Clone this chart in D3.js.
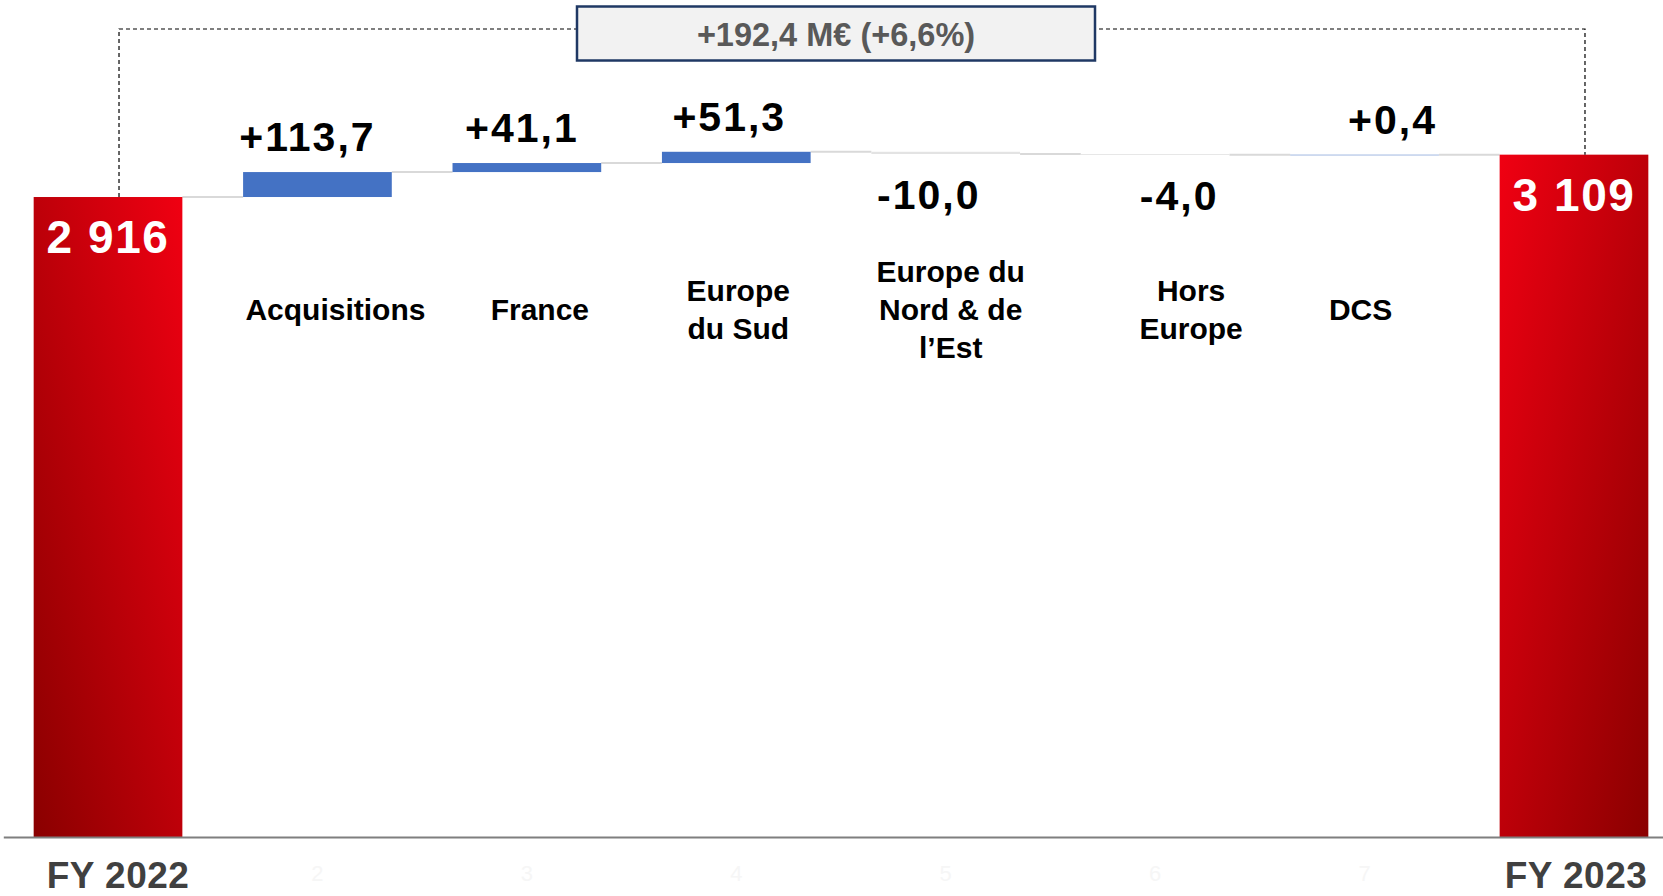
<!DOCTYPE html>
<html>
<head>
<meta charset="utf-8">
<script src="https://cdn.jsdelivr.net/npm/d3@7"></script>
<style>
  html, body { margin: 0; padding: 0; background: #fff; }
  svg { display: block; }
</style>
</head>
<body>
<svg id="chart" width="1663" height="896"></svg>
<script>
// ---- data ----
const categories = ["FY 2022", "Acquisitions", "France", "Europe du Sud", "Europe du Nord & de l’Est", "Hors Europe", "DCS", "FY 2023"];
const categoryLines = [[], ["Acquisitions"], ["France"], ["Europe", "du Sud"], ["Europe du", "Nord & de", "l’Est"], ["Hors", "Europe"], ["DCS"], []];
const startValue = 2916;
const deltas = [113.7, 41.1, 51.3, -10.0, -4.0, 0.4];
const endValue = 3109;
const axisTickLabels = ["1", "2", "3", "4", "5", "6", "7", "8"];
const summaryLabel = "+192,4 M€ (+6,6%)";

// ---- layout tweaks (pixel nudges of hand-placed labels, by category index) ----
const valueLabelDx = { 1: -10, 2: -5, 3: -7, 4: -17, 5: 24, 6: 28 };
const catLabelDx = { 1: 18, 2: 13, 3: 2, 4: 5, 5: 36, 6: -4 };

// ---- build waterfall rows ----
const rows = [];
rows.push({ i: 0, kind: "total", y0: 0, y1: startValue, v: startValue });
let run = startValue;
deltas.forEach((d, k) => {
  rows.push({ i: k + 1, kind: d >= 0 ? "up" : "down", y0: run, y1: run + d, v: d });
  run += d;
});
rows.push({ i: 7, kind: "total", y0: 0, y1: endValue, v: endValue });

const svg = d3.select("#chart");

const x = d3.scaleBand().domain(d3.range(categories.length)).range([3.3, 1678.7])
  .paddingInner(0.29).paddingOuter(0.145);
const y = d3.scaleLinear().domain([0, 3800]).range([837, 3]);

const locale = d3.formatLocale({ decimal: ",", thousands: " ", grouping: [3], currency: ["", "€"], minus: "-" });
const fTotal = locale.format(",.0f");
const fDelta = locale.format("+.1f");

// gradients
const defs = svg.append("defs");
const g1 = defs.append("linearGradient").attr("id", "gStart")
  .attr("x1", 0).attr("y1", 1).attr("x2", 1).attr("y2", 0);
g1.append("stop").attr("offset", "0%").attr("stop-color", "#8a0000");
g1.append("stop").attr("offset", "100%").attr("stop-color", "#f00012");
const g2 = defs.append("linearGradient").attr("id", "gEnd")
  .attr("x1", 0).attr("y1", 0).attr("x2", 1).attr("y2", 1);
g2.append("stop").attr("offset", "0%").attr("stop-color", "#f00012");
g2.append("stop").attr("offset", "100%").attr("stop-color", "#8a0000");

// connectors
const conn = svg.append("g");
for (let k = 0; k < rows.length - 1; k++) {
  const level = rows[k].y1;
  conn.append("line")
    .attr("x1", x(k) + x.bandwidth()).attr("x2", x(k + 1))
    .attr("y1", y(level)).attr("y2", y(level))
    .attr("stroke", "#d9d9d9").attr("stroke-width", 2);
}

// bars
svg.append("g").selectAll("rect").data(rows).join("rect")
  .attr("x", d => x(d.i))
  .attr("width", x.bandwidth())
  .attr("y", d => y(Math.max(d.y0, d.y1)))
  .attr("height", d => Math.max(0.5, Math.abs(y(d.y0) - y(d.y1))))
  .attr("fill", d => d.kind === "total" ? (d.i === 0 ? "url(#gStart)" : "url(#gEnd)")
    : d.kind === "up" ? "#4472c4" : "#e3e3e3");

// axis
const axis = d3.axisBottom(x).tickSize(0).tickPadding(0)
  .tickFormat(i => (i === 0 || i === categories.length - 1) ? "" : axisTickLabels[i]);
const ag = svg.append("g").attr("transform", "translate(0,837)").call(axis);
ag.select(".domain").attr("stroke", "#7f7f7f").attr("stroke-width", 2.2);
ag.selectAll(".tick text")
  .attr("y", 44).attr("dy", 0)
  .attr("font-family", "Liberation Sans, Arial, sans-serif")
  .attr("font-size", 22).attr("fill", "#f6f6f6");

// FY labels
svg.append("g").selectAll("text").data([0, categories.length - 1]).join("text")
  .attr("x", i => x(i) + x.bandwidth() / 2 + (i === 0 ? 10 : 2))
  .attr("y", 888)
  .attr("text-anchor", "middle")
  .attr("font-family", "Liberation Sans, Arial, sans-serif")
  .attr("font-weight", "bold").attr("font-size", 37).attr("letter-spacing", 0.5)
  .attr("fill", "#404040")
  .text(i => categories[i]);

// value labels
const vl = svg.append("g").attr("font-family", "Liberation Sans, Arial, sans-serif").attr("font-weight", "bold");
rows.forEach(r => {
  const cx = x(r.i) + x.bandwidth() / 2 + (valueLabelDx[r.i] || 0);
  if (r.kind === "total") {
    vl.append("text").attr("x", cx).attr("y", y(r.y1) + 56)
      .attr("text-anchor", "middle").attr("font-size", 46).attr("letter-spacing", 1.6)
      .attr("fill", "#fff").text(fTotal(r.v));
  } else if (r.kind === "up") {
    vl.append("text").attr("x", cx).attr("y", y(r.y1) - 21)
      .attr("text-anchor", "middle").attr("font-size", 41).attr("letter-spacing", 2)
      .attr("fill", "#000").text(fDelta(r.v));
  } else {
    vl.append("text").attr("x", cx).attr("y", y(r.y1) + 55)
      .attr("text-anchor", "middle").attr("font-size", 41).attr("letter-spacing", 2)
      .attr("fill", "#000").text(fDelta(r.v));
  }
});

// category labels
const cl = svg.append("g").attr("font-family", "Liberation Sans, Arial, sans-serif")
  .attr("font-weight", "bold").attr("font-size", 30).attr("fill", "#000").attr("text-anchor", "middle");
categoryLines.forEach((lines, i) => {
  if (!lines.length) return;
  const cx = x(i) + x.bandwidth() / 2 + (catLabelDx[i] || 0);
  const n = lines.length;
  lines.forEach((t, j) => {
    cl.append("text").attr("x", cx).attr("y", 320 - (n - 1) * 19 + j * 38).text(t);
  });
});

// dashed bracket
const bx0 = x(0) + x.bandwidth() / 2 + 11;
const bx1 = x(categories.length - 1) + x.bandwidth() / 2 + 11;
const by = 29;
svg.append("path")
  .attr("d", `M${bx0},${y(startValue)}V${by}H${bx1}V${y(endValue)}`)
  .attr("fill", "none").attr("stroke", "#000").attr("stroke-width", 1.2)
  .attr("stroke-dasharray", "4 3");

// summary box
const boxCx = (x(0) + x(categories.length - 1) + x.bandwidth()) / 2 - 5;
const boxW = 518, boxY = 6.5, boxH = 54;
svg.append("rect").attr("x", boxCx - boxW / 2).attr("y", boxY).attr("width", boxW).attr("height", boxH)
  .attr("fill", "#f2f2f2").attr("stroke", "#1f3864").attr("stroke-width", 2.5);
svg.append("text").attr("x", boxCx).attr("y", boxY + 39)
  .attr("text-anchor", "middle")
  .attr("font-family", "Liberation Sans, Arial, sans-serif").attr("font-weight", "bold")
  .attr("font-size", 32.5).attr("fill", "#595959").text(summaryLabel);
</script>
</body>
</html>
